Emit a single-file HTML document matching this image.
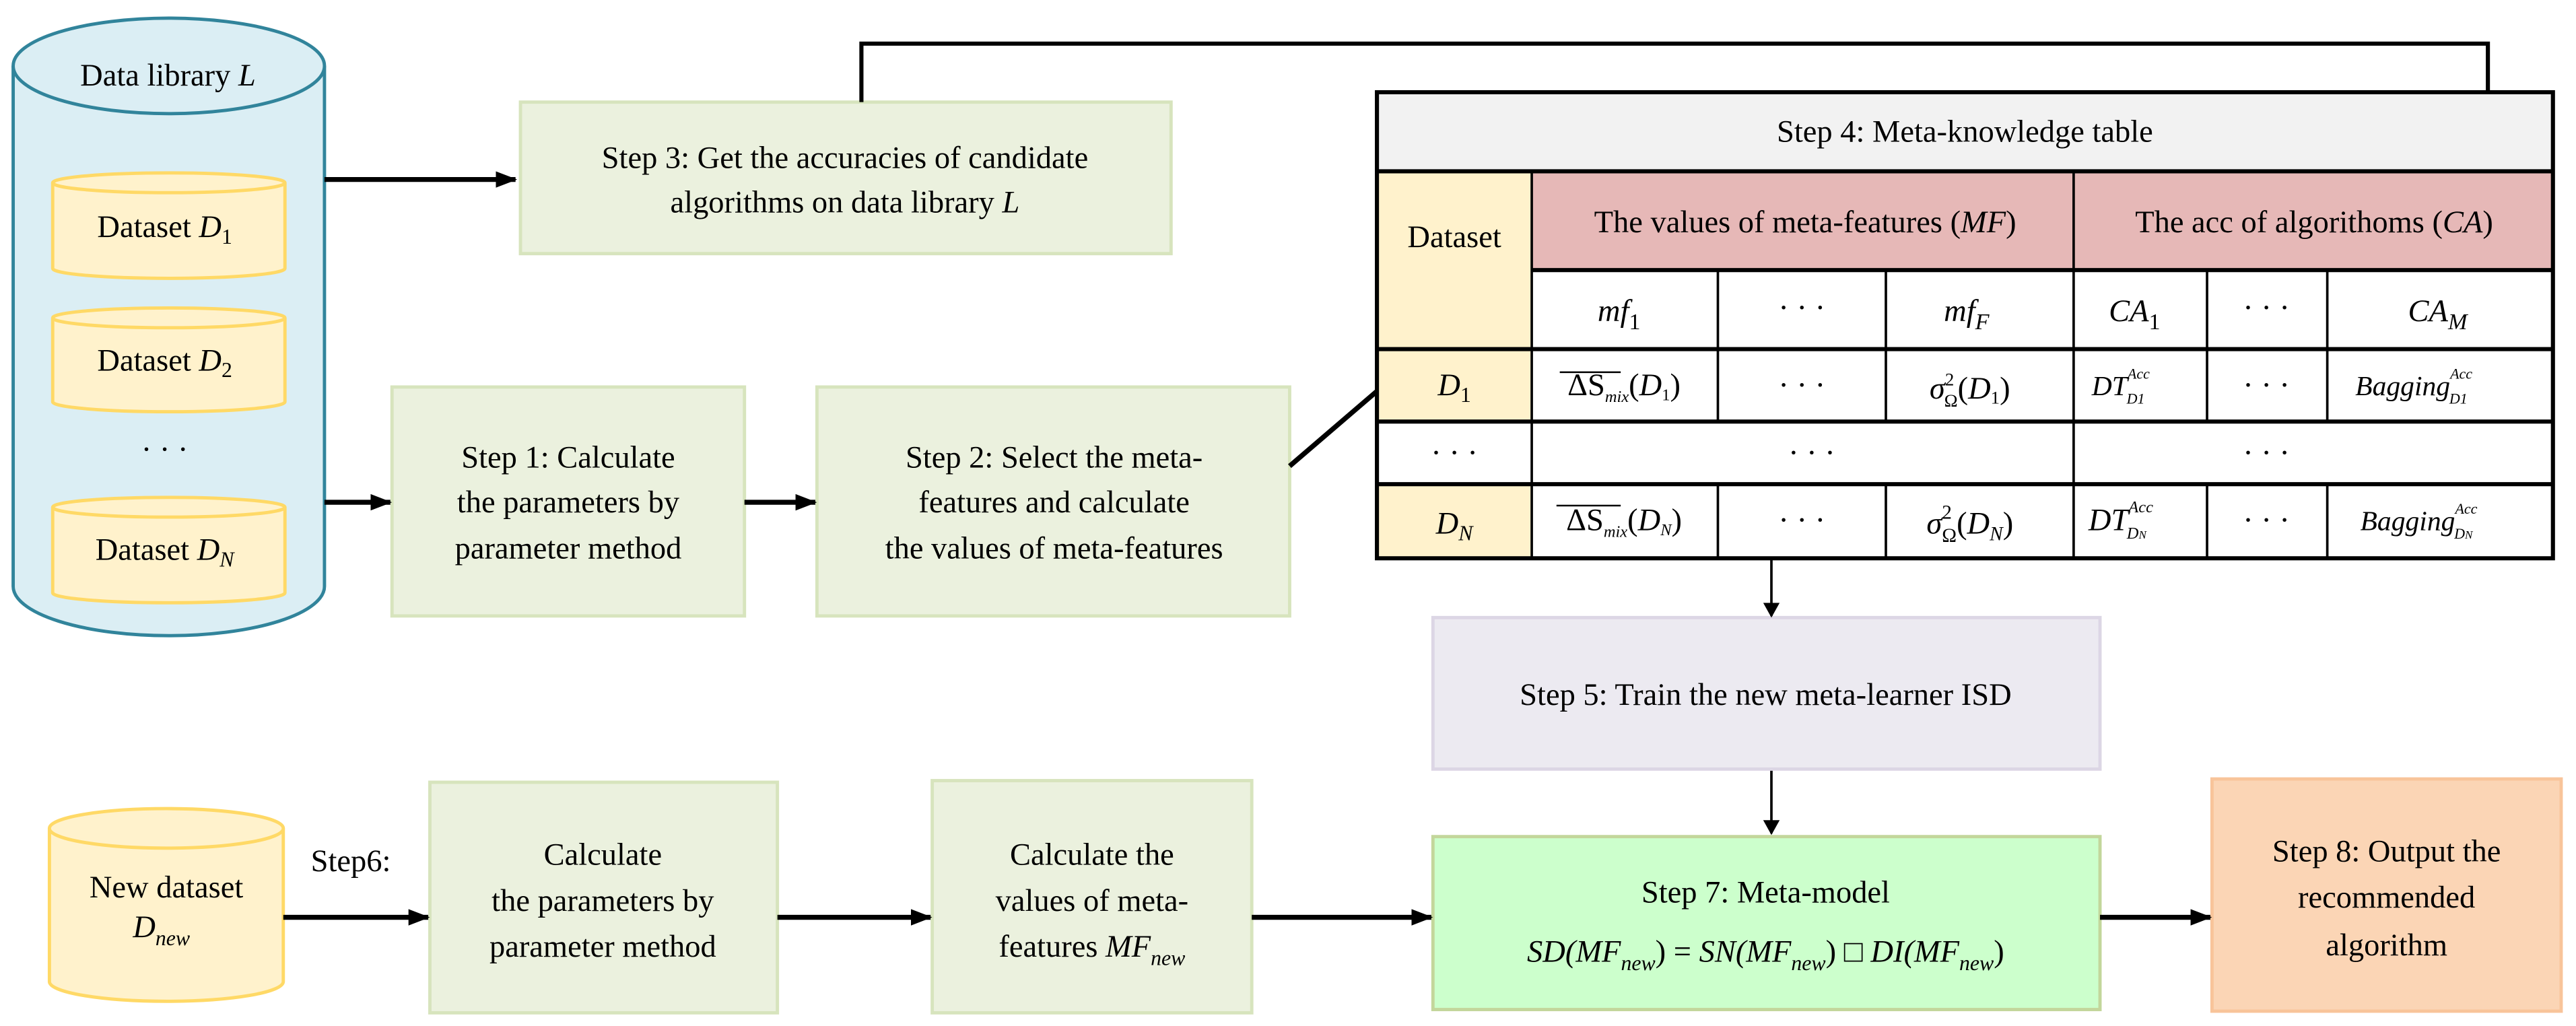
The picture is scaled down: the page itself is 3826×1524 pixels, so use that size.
<!DOCTYPE html>
<html><head><meta charset="utf-8"><style>
html,body{margin:0;padding:0;background:#fff;}
svg{display:block;}
text{font-family:"Liberation Serif",serif;fill:#000;}
.t{font-size:19px;text-anchor:middle;}
.i{font-style:italic;}
</style></head><body>
<svg width="3826" height="1524" viewBox="0 0 1564 623" preserveAspectRatio="none" xmlns="http://www.w3.org/2000/svg">
<defs>
<marker id="ah" markerWidth="10" markerHeight="10" refX="8" refY="5" orient="auto" markerUnits="userSpaceOnUse">
<path d="M0,0 L9,5 L0,10 Z" fill="#000"/></marker>
<marker id="ah2" markerWidth="14" markerHeight="14" refX="12" refY="7" orient="auto" markerUnits="userSpaceOnUse">
<path d="M0,2 L13,7 L0,12 Z" fill="#000"/></marker>
</defs>

<!-- Big cylinder -->
<path d="M8,40 L8,356 A94.5,30 0 0 0 197,356 L197,40" fill="#dbeef4" stroke="#31849b" stroke-width="2"/>
<ellipse cx="102.5" cy="40" rx="94.5" ry="29" fill="#dbeef4" stroke="#31849b" stroke-width="2"/>
<text class="t" x="102" y="52">Data library <tspan class="i">L</tspan></text>

<!-- small cylinders -->
<g fill="#fff2cc" stroke="#ffd966" stroke-width="2">
<path d="M32,111 L32,163 A70.5,6 0 0 0 173,163 L173,111"/><ellipse cx="102.5" cy="111" rx="70.5" ry="6"/>
<path d="M32,193 L32,244 A70.5,6 0 0 0 173,244 L173,193"/><ellipse cx="102.5" cy="193" rx="70.5" ry="6"/>
<path d="M32,308 L32,360 A70.5,6 0 0 0 173,360 L173,308"/><ellipse cx="102.5" cy="308" rx="70.5" ry="6"/>
</g>
<text class="t" x="100" y="144">Dataset <tspan class="i">D</tspan><tspan font-size="13" dy="4">1</tspan></text>
<text class="t" x="100" y="225">Dataset <tspan class="i">D</tspan><tspan font-size="13" dy="4">2</tspan></text>
<text class="t" x="100" y="279">· · ·</text>
<text class="t" x="100" y="340">Dataset <tspan class="i">D</tspan><tspan font-size="13" dy="4" class="i">N</tspan></text>

<!-- Step 3 -->
<rect x="316" y="62" width="395" height="92" fill="#ebf1de" stroke="#d7e4bd" stroke-width="2"/>
<text class="t" x="513" y="102">Step 3: Get the accuracies of candidate</text>
<text class="t" x="513" y="129">algorithms on data library <tspan class="i">L</tspan></text>

<!-- Step1 / Step2 -->
<rect x="238" y="235" width="214" height="139" fill="#ebf1de" stroke="#d7e4bd" stroke-width="2"/>
<text class="t" x="345" y="284">Step 1: Calculate</text>
<text class="t" x="345" y="311">the parameters by</text>
<text class="t" x="345" y="339">parameter method</text>
<rect x="496" y="235" width="287" height="139" fill="#ebf1de" stroke="#d7e4bd" stroke-width="2"/>
<text class="t" x="640" y="284">Step 2: Select the meta-</text>
<text class="t" x="640" y="311">features and calculate</text>
<text class="t" x="640" y="339">the values of meta-features</text>

<!-- arrows left part -->
<g stroke="#000" stroke-width="3" fill="none">
<line x1="197" y1="109" x2="313" y2="109" marker-end="url(#ah2)"/>
<line x1="197" y1="305" x2="237" y2="305" marker-end="url(#ah2)"/>
<line x1="452" y1="305" x2="495" y2="305" marker-end="url(#ah2)"/>
<line x1="783" y1="283" x2="945" y2="144" marker-end="url(#ah2)"/>
<polyline points="523,62 523,26.5 1510.5,26.5 1510.5,126" stroke-width="2.5" marker-end="url(#ah2)"/>
</g>

<!-- Table -->
<rect x="836" y="56" width="714" height="48" fill="#f2f2f2"/>
<rect x="930" y="104" width="620" height="60" fill="#e6b8b7"/>
<rect x="836" y="104" width="94" height="108" fill="#fff2cc"/>
<rect x="836" y="212" width="94" height="44" fill="#fff2cc"/>
<rect x="836" y="294" width="94" height="45" fill="#fff2cc"/>
<g stroke="#000" stroke-width="1.5" fill="none">
<line x1="930" y1="104" x2="930" y2="339"/>
<line x1="1259" y1="104" x2="1259" y2="339"/>
<line x1="1043" y1="164" x2="1043" y2="256"/><line x1="1145" y1="164" x2="1145" y2="256"/>
<line x1="1340" y1="164" x2="1340" y2="256"/><line x1="1413" y1="164" x2="1413" y2="256"/>
<line x1="1043" y1="294" x2="1043" y2="339"/><line x1="1145" y1="294" x2="1145" y2="339"/>
<line x1="1340" y1="294" x2="1340" y2="339"/><line x1="1413" y1="294" x2="1413" y2="339"/>
</g>
<g stroke="#000" stroke-width="2.5" fill="none">
<rect x="836" y="56" width="714" height="283"/>
<line x1="836" y1="104" x2="1550" y2="104"/>
<line x1="930" y1="164" x2="1550" y2="164"/>
<line x1="836" y1="212" x2="1550" y2="212"/>
<line x1="836" y1="256" x2="1550" y2="256"/>
<line x1="836" y1="294" x2="1550" y2="294"/>
</g>
<text class="t" x="1193" y="86">Step 4:   Meta-knowledge table</text>
<text class="t" x="883" y="150">Dataset</text>
<text class="t" x="1096" y="141">The values of meta-features (<tspan class="i">MF</tspan>)</text>
<text class="t" x="1405" y="141">The acc of algorithoms (<tspan class="i">CA</tspan>)</text>
<g font-size="21">
<text class="t i" x="983" y="195">mf<tspan font-size="14" dy="5" font-style="normal">1</tspan></text>
<text class="t" x="1094" y="193">· · ·</text>
<text class="t i" x="1194" y="195">mf<tspan font-size="14" dy="5">F</tspan></text>
<text class="t i" x="1296" y="195">CA<tspan font-size="14" dy="5" font-style="normal">1</tspan></text>
<text class="t" x="1376" y="193">· · ·</text>
<text class="t i" x="1480" y="195">CA<tspan font-size="14" dy="5">M</tspan></text>
</g>
<text class="t i" x="883" y="240">D<tspan font-size="13" dy="4" font-style="normal">1</tspan></text>
<text class="t" x="883" y="281">· · ·</text>
<text class="t i" x="883" y="324">D<tspan font-size="13" dy="4">N</tspan></text>
<line x1="947" y1="226" x2="984" y2="226" stroke="#000" stroke-width="1"/>
<line x1="945" y1="307" x2="984" y2="307" stroke="#000" stroke-width="1"/>
<text class="t" x="986" y="240" font-size="15">ΔS<tspan class="i" font-size="10" dy="4">mix</tspan><tspan dy="-4">(</tspan><tspan class="i">D</tspan><tspan font-size="10" dy="3">1</tspan><tspan dy="-3">)</tspan></text>
<text class="t" x="986" y="322" font-size="15">ΔS<tspan class="i" font-size="10" dy="4">mix</tspan><tspan dy="-4">(</tspan><tspan class="i">D</tspan><tspan font-size="10" dy="3" class="i">N</tspan><tspan dy="-3">)</tspan></text>
<text class="t" x="1094" y="240">· · ·</text>
<text class="t" x="1094" y="322">· · ·</text>
<text class="t" x="1196" y="242" font-size="18"><tspan class="i">σ</tspan><tspan font-size="11" dy="-8">2</tspan><tspan font-size="11" dx="-6" dy="13">Ω</tspan><tspan dy="-5">(</tspan><tspan class="i">D</tspan><tspan font-size="11" dy="3">1</tspan><tspan dy="-3">)</tspan></text>
<text class="t" x="1196" y="324" font-size="20"><tspan class="i">σ</tspan><tspan font-size="12" dy="-9">2</tspan><tspan font-size="12" dx="-6" dy="14">Ω</tspan><tspan dy="-5">(</tspan><tspan class="i">D</tspan><tspan font-size="12" dy="4" class="i">N</tspan><tspan dy="-4">)</tspan></text>
<text class="t" x="1376" y="240">· · ·</text>
<text class="t" x="1376" y="322">· · ·</text>
<text class="t" x="1100" y="281">· · ·</text>
<text class="t" x="1376" y="281">· · ·</text>
<text x="1270" y="240" font-size="17" class="i">DT<tspan font-size="9" dy="-10">Acc</tspan><tspan font-size="9" dx="-14" dy="15">D1</tspan></text>
<text x="1268" y="322" font-size="19" class="i">DT<tspan font-size="10" dy="-11">Acc</tspan><tspan font-size="10" dx="-16" dy="16">D<tspan font-size="7">N</tspan></tspan></text>
<text x="1430" y="240" font-size="17" class="i">Bagging<tspan font-size="9" dy="-10">Acc</tspan><tspan font-size="9" dx="-14" dy="15">D1</tspan></text>
<text x="1433" y="322" font-size="17" class="i">Bagging<tspan font-size="9" dy="-10">Acc</tspan><tspan font-size="9" dx="-14" dy="15">D<tspan font-size="7">N</tspan></tspan></text>

<!-- Step 5 -->
<rect x="870" y="375" width="405" height="92" fill="#eceaf1" stroke="#dcd6e5" stroke-width="2"/>
<text class="t" x="1072" y="428">Step 5: Train the new meta-learner ISD</text>
<g stroke="#000" stroke-width="1.5" fill="none">
<line x1="1075.5" y1="339" x2="1075.5" y2="374" marker-end="url(#ah)"/>
<line x1="1075.5" y1="468" x2="1075.5" y2="506" marker-end="url(#ah)"/>
</g>

<!-- Bottom row -->
<path d="M30,503 L30,596 A71,12 0 0 0 172,596 L172,503" fill="#fff2cc" stroke="#ffd966" stroke-width="2"/>
<ellipse cx="101" cy="503" rx="71" ry="12" fill="#fff2cc" stroke="#ffd966" stroke-width="2"/>
<text class="t" x="101" y="545">New dataset</text>
<text class="t i" x="98" y="569">D<tspan font-size="13" dy="5">new</tspan></text>
<text class="t" x="213" y="529">Step6:</text>

<rect x="261" y="475" width="211" height="140" fill="#ebf1de" stroke="#d7e4bd" stroke-width="2"/>
<text class="t" x="366" y="525">Calculate</text>
<text class="t" x="366" y="553">the parameters by</text>
<text class="t" x="366" y="581">parameter method</text>
<rect x="566" y="474" width="194" height="141" fill="#ebf1de" stroke="#d7e4bd" stroke-width="2"/>
<text class="t" x="663" y="525">Calculate the</text>
<text class="t" x="663" y="553">values of meta-</text>
<text class="t" x="663" y="581">features <tspan class="i">MF</tspan><tspan class="i" font-size="13" dy="5">new</tspan></text>

<rect x="870" y="508" width="405" height="105" fill="#ccffcc" stroke="#c3d69b" stroke-width="2"/>
<text class="t" x="1072" y="548">Step 7: Meta-model</text>
<text class="t i" x="1072" y="584">SD(MF<tspan font-size="13" dy="5">new</tspan><tspan dy="-5" font-style="normal">) = </tspan>SN(MF<tspan font-size="13" dy="5">new</tspan><tspan dy="-5" font-style="normal">) □ </tspan>DI(MF<tspan font-size="13" dy="5">new</tspan><tspan dy="-5" font-style="normal">)</tspan></text>

<rect x="1343" y="473" width="212" height="141" fill="#fbd5b5" stroke="#f8c49a" stroke-width="2"/>
<text class="t" x="1449" y="523">Step 8: Output the</text>
<text class="t" x="1449" y="551">recommended</text>
<text class="t" x="1449" y="580">algorithm</text>

<g stroke="#000" stroke-width="3" fill="none">
<line x1="172" y1="557" x2="260" y2="557" marker-end="url(#ah2)"/>
<line x1="472" y1="557" x2="565" y2="557" marker-end="url(#ah2)"/>
<line x1="760" y1="557" x2="869" y2="557" marker-end="url(#ah2)"/>
<line x1="1275" y1="557" x2="1342" y2="557" marker-end="url(#ah2)"/>
</g>
</svg>
</body></html>
